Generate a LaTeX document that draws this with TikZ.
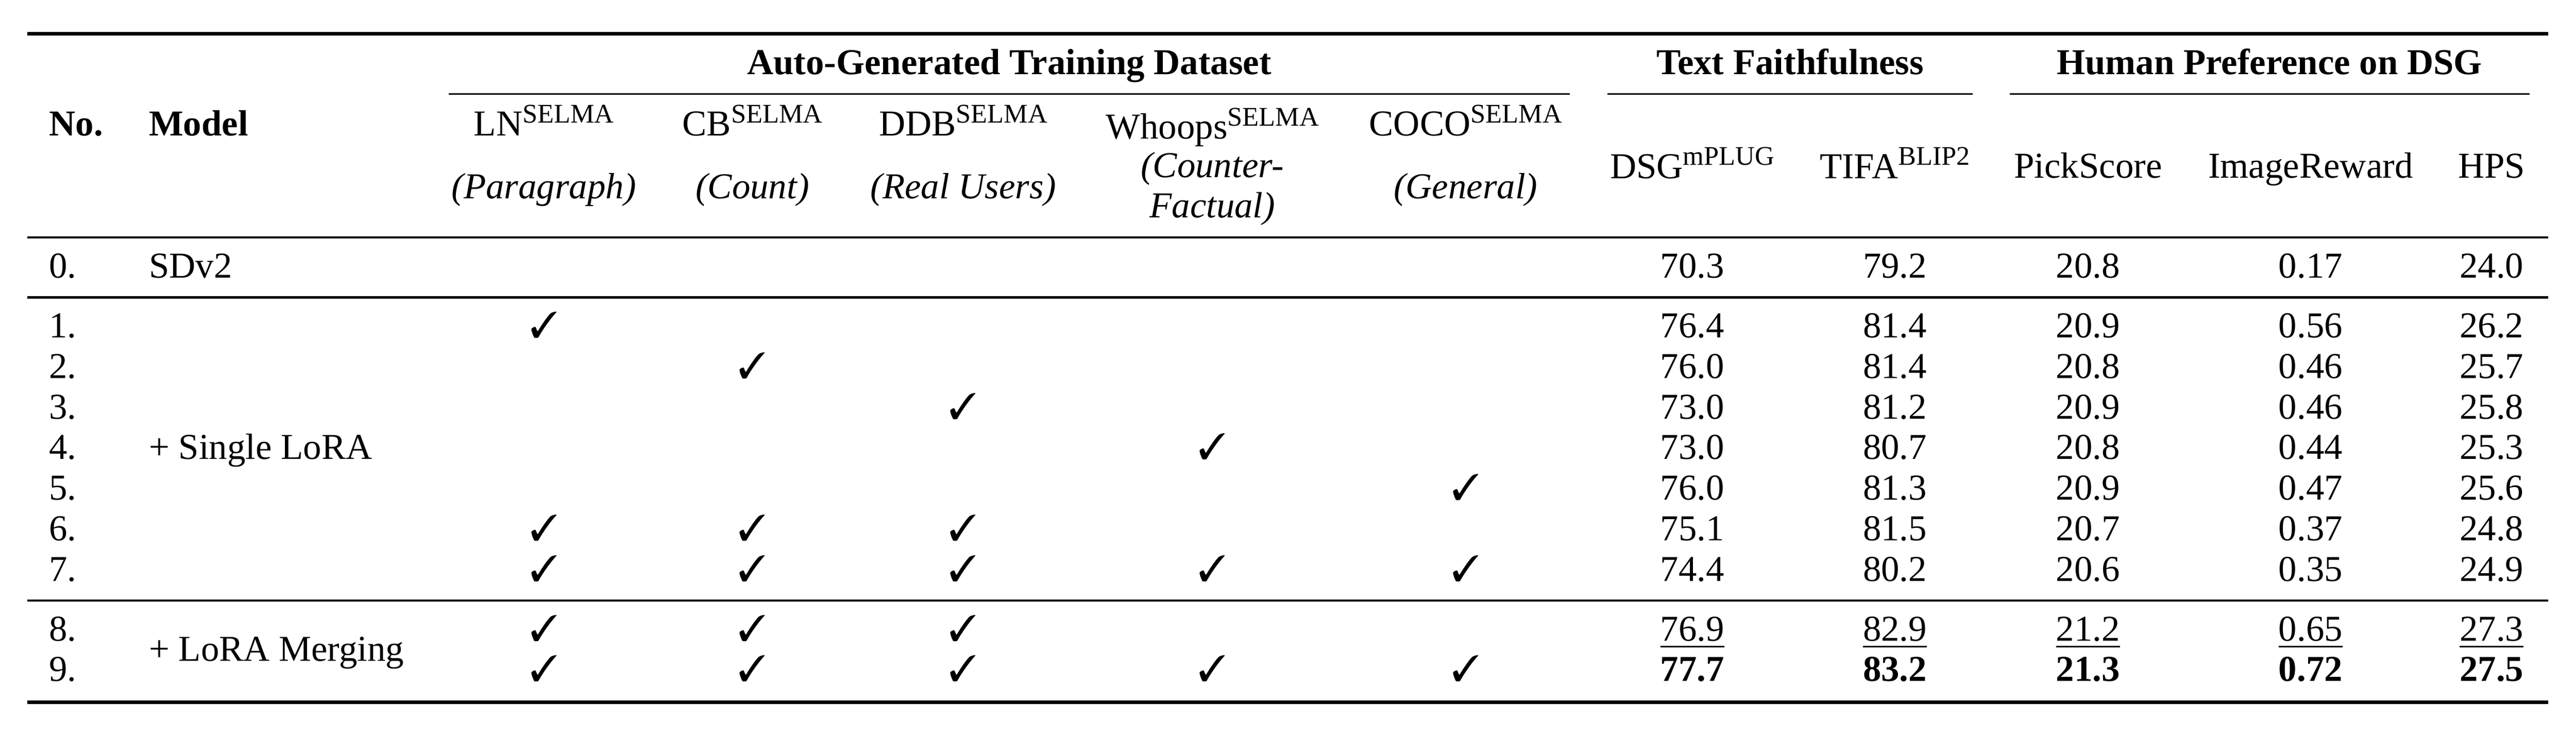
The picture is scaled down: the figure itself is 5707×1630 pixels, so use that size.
\documentclass[tikz,border=0pt]{standalone}
\usepackage{fontspec}
\setmainfont{Liberation Serif}
\usepackage{pifont}
\newcommand\sprs[1]{\raisebox{8.3pt}{\fontsize{17}{17}\selectfont #1}}
\newcommand\ckm{\ding{51}}
\begin{document}
\begin{tikzpicture}[x=0.1mm,y=-0.1mm,
  txt/.style={inner sep=0pt,outer sep=0pt,anchor=base,font=\fontsize{23}{27}\selectfont},
  txtl/.style={txt,anchor=base west},
  bld/.style={txt,font=\fontsize{23}{27}\selectfont\bfseries},
  bldl/.style={bld,anchor=base west},
  itl/.style={txt,font=\fontsize{23}{27}\selectfont\itshape},
  hrule/.style={line width=0.8mm},
  mrule/.style={line width=0.5mm},
  crule/.style={line width=0.3mm},
  urule/.style={line width=0.3mm},
  ]
\useasboundingbox (0,0) rectangle (5707,1630);
% rules
\coordinate (L) at (60,0); \coordinate (R) at (5645,0);
\draw[hrule] (60,75) -- (5645,75);
\draw[crule] (994,208) -- (3478,208);
\draw[crule] (3561,208) -- (4370,208);
\draw[crule] (4452,208) -- (5604,208);
\draw[mrule] (60,526) -- (5645,526);
\draw[mrule] (60,659) -- (5645,659);
\draw[mrule] (60,1331) -- (5645,1331);
\draw[hrule] (60,1556) -- (5645,1556);
% group headers
\node[bld] (gA) at (2236,165) {Auto-Generated Training Dataset};
\node[bld] (gT) at (3966,165) {Text Faithfulness};
\node[bld] (gH) at (5028,165) {Human Preference on DSG};
\node[bldl] (hNo) at (109,301) {No.};
\node[bldl] (hMo) at (330,301) {Model};
% dataset headers
\node[txt] (hLN) at (1205,301) {LN\sprs{SELMA}};
\node[itl] (sLN) at (1205,440) {(Paragraph)};
\node[txt] (hCB) at (1667,301) {CB\sprs{SELMA}};
\node[itl] (sCB) at (1667,440) {(Count)};
\node[txt] (hDDB) at (2134,301) {DDB\sprs{SELMA}};
\node[itl] (sDDB) at (2134,440) {(Real Users)};
\node[txt] (hWh) at (2686,308) {Whoops\sprs{SELMA}};
\node[itl] (sWh1) at (2686,393) {(Counter-};
\node[itl] (sWh2) at (2686,482) {Factual)};
\node[txt] (hCO) at (3247,301) {COCO\sprs{SELMA}};
\node[itl] (sCO) at (3247,440) {(General)};
% metric headers
\node[txt] (hDSG) at (3749,395) {DSG\sprs{mPLUG}};
\node[txt] (hTI) at (4198,395) {TIFA\sprs{BLIP2}};
\node[txt] (hPS) at (4626,394) {PickScore};
\node[txt] (hIR) at (5119,394) {ImageReward};
\node[txt] (hHP) at (5520,394) {HPS};
% row labels
\node[txtl] (n0) at (109,616) {0.};
\node[txtl] (m0) at (330,616) {SDv2};
\foreach \i/\y in {1/748,2/838,3/928,4/1018,5/1108,6/1198,7/1288,8/1420,9/1510}
  \node[txtl] (n\i) at (109,\y) {\i.};
\node[txtl] (m1) at (330,1018) {+ Single LoRA};
\node[txtl] (m2) at (330,1465) {+ LoRA Merging};
% checks
\foreach \r/\y/\cols in {1/748/1, 2/838/2, 3/928/3, 4/1018/4, 5/1108/5, 6/1198/{1,2,3}, 7/1288/{1,2,3,4,5}, 8/1420/{1,2,3}, 9/1510/{1,2,3,4,5}}{
  \foreach \c in \cols {
    \pgfmathsetmacro\cx{{1205,1667,2134,2686,3247}[\c-1]}
    \node[txt] (ck\r-\c) at (\cx,\y) {\ckm};
  }
}
% numbers
\foreach \r/\y/\a/\b/\cc/\d/\e in {0/616/70.3/79.2/20.8/0.17/24.0,
   1/748/76.4/81.4/20.9/0.56/26.2, 2/838/76.0/81.4/20.8/0.46/25.7,
   3/928/73.0/81.2/20.9/0.46/25.8, 4/1018/73.0/80.7/20.8/0.44/25.3,
   5/1108/76.0/81.3/20.9/0.47/25.6, 6/1198/75.1/81.5/20.7/0.37/24.8,
   7/1288/74.4/80.2/20.6/0.35/24.9, 8/1420/76.9/82.9/21.2/0.65/27.3}{
  \node[txt] (v\r-1) at (3749,\y) {\a};
  \node[txt] (v\r-2) at (4198,\y) {\b};
  \node[txt] (v\r-3) at (4626,\y) {\cc};
  \node[txt] (v\r-4) at (5119,\y) {\d};
  \node[txt] (v\r-5) at (5520,\y) {\e};
}
\foreach \k in {1,...,5}
  \draw[urule] ([yshift=-1.3mm]v8-\k.base west) -- ([yshift=-1.3mm]v8-\k.base east);
\node[bld] (v9-1) at (3749,1510) {77.7};
\node[bld] (v9-2) at (4198,1510) {83.2};
\node[bld] (v9-3) at (4626,1510) {21.3};
\node[bld] (v9-4) at (5119,1510) {0.72};
\node[bld] (v9-5) at (5520,1510) {27.5};
\end{tikzpicture}
\end{document}
